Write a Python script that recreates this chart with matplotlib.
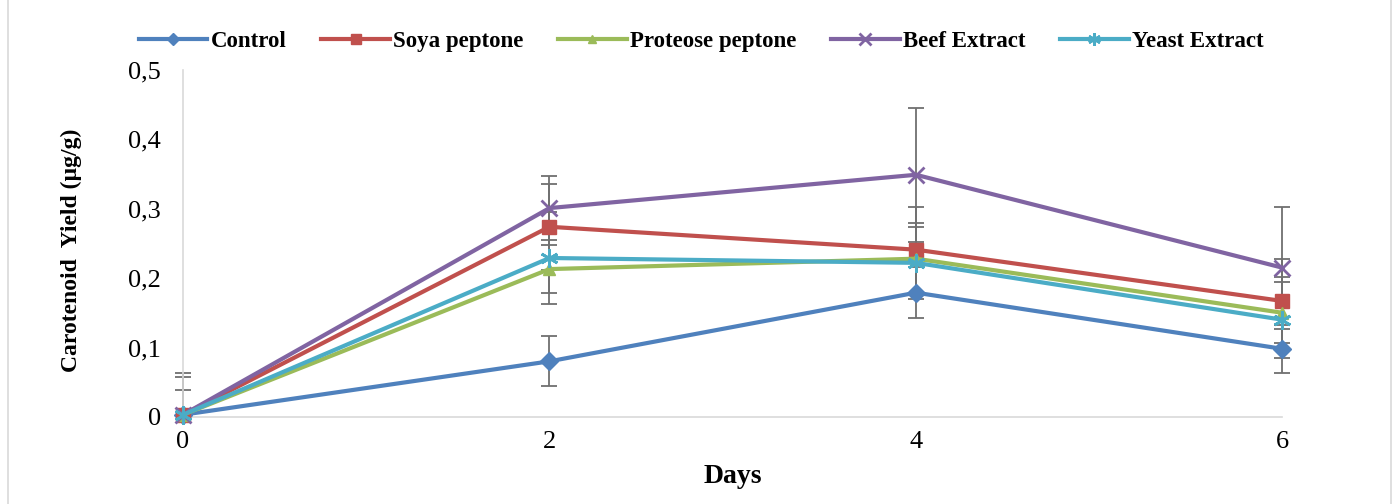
import matplotlib.pyplot as plt
from matplotlib.patches import Rectangle
from matplotlib.ticker import FuncFormatter

plt.rcParams['font.family'] = ['Liberation Serif', 'DejaVu Serif']

days = [0, 2, 4, 6]
names = ['Control', 'Soya peptone', 'Proteose peptone', 'Beef Extract', 'Yeast Extract']
control = [0.003, 0.080, 0.179, 0.098]
soya = [0.003, 0.274, 0.241, 0.167]
proteose = [0.003, 0.213, 0.228, 0.150]
beef = [0.003, 0.301, 0.349, 0.215]
yeast = [0.003, 0.229, 0.222, 0.140]
control_err = [0.0, 0.036, 0.037, 0.035]
soya_err = [0.055, 0.062, 0.062, 0.061]
proteose_err = [0.0, 0.035, 0.052, 0.052]
beef_err = [0.060, 0.046, 0.097, 0.088]
yeast_err = [0.035, 0.066, 0.052, 0.055]

series = [control, soya, proteose, beef, yeast]
errors = [control_err, soya_err, proteose_err, beef_err, yeast_err]
colors = ['#4F81BD', '#C0504D', '#9BBB59', '#8064A2', '#4BACC6']
markers = ['D', 's', '^', 'x', (6, 2, 0)]
msizes = [9, 10, 9, 12, 13]

fig = plt.figure(figsize=(13.97, 5.04), dpi=100)
ax = fig.add_axes([0.131, 0.173, 0.787, 0.688])

# error bars first so lines sit on top; below-axis part is not shown at day 0
for vals, err in zip(series, errors):
    lower = [0 if d == 0 else e for d, e in zip(days, err)]
    ax.errorbar(days, vals, yerr=[lower, err], fmt='none', ecolor='#707070',
                elinewidth=1.3, capsize=6, capthick=1.3, zorder=2, clip_on=False)

for vals, name, c, m, ms in zip(series, names, colors, markers, msizes):
    ax.plot(days, vals, color=c, lw=3, marker=m, ms=ms,
            mew=2 if (m == 'x' or isinstance(m, tuple)) else 1,
            mec=c, mfc=c, label=name, zorder=3, clip_on=False)

ax.set_xlim(0, 6)
ax.set_ylim(0, 0.5)
ax.set_xticks([0, 2, 4, 6])
ax.set_yticks([0, 0.1, 0.2, 0.3, 0.4, 0.5])
ax.yaxis.set_major_formatter(FuncFormatter(lambda v, p: '0' if v == 0 else ('%.1f' % v).replace('.', ',')))
ax.tick_params(axis='y', length=0, labelsize=19, pad=16)
ax.tick_params(axis='x', length=0, labelsize=19, pad=10)
for s in ['top', 'right']:
    ax.spines[s].set_visible(False)
for s in ['left', 'bottom']:
    ax.spines[s].set_color('#D9D9D9')
    ax.spines[s].set_linewidth(1.2)

ax.set_xlabel('Days', fontsize=20, fontweight='bold', labelpad=8)
ax.set_ylabel('Carotenoid  Yield (µg/g)', fontsize=17, fontweight='bold')
ax.yaxis.set_label_coords(-0.092, 0.48)

fig.legend(loc='center', bbox_to_anchor=(0.502, 0.918), ncol=5, frameon=False,
           prop={'size': 16.5, 'weight': 'bold'}, handlelength=3.0, columnspacing=1.5,
           handletextpad=0.15, markerscale=0.7)

fig.patches.append(Rectangle((0.006, -0.01), 0.99, 1.02, transform=fig.transFigure,
                             fill=False, edgecolor='#D9D9D9', lw=1.2))

fig.savefig('out.png', dpi=100)
